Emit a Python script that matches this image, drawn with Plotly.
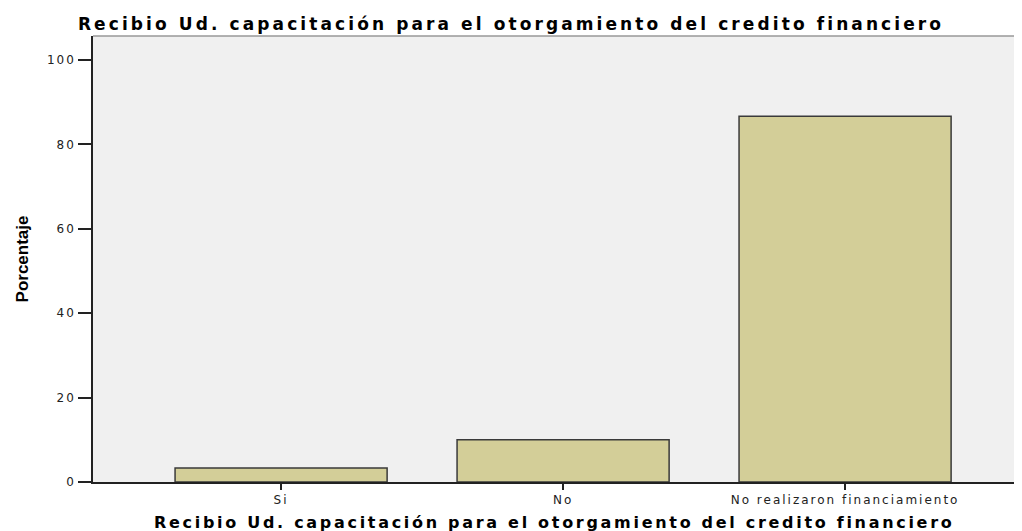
import plotly.graph_objects as go

categories = ["Si", "No", "No realizaron financiamiento"]
porcentaje = [3.33, 10.0, 86.67]
y_ticks = [0, 20, 40, 60, 80, 100]

title_text = "Recibio Ud. capacitación para el otorgamiento del credito financiero"
y_title = "Porcentaje"


def spaced(text, px):
    return f'<span style="letter-spacing:{px}px">{text}</span>'


fig = go.Figure(go.Bar(
    x=categories,
    y=porcentaje,
    marker=dict(color="#d3ce98", line=dict(color="#3a3a3a", width=1.5)),
    hoverinfo="skip",
))

fig.update_layout(
    width=1006, height=523,
    margin=dict(l=85, r=0, t=28, b=49, autoexpand=False),
    paper_bgcolor="white",
    plot_bgcolor="#f0f0f0",
    bargap=0.248,
    showlegend=False,
    title=dict(text=spaced(title_text, 3.1), x=0.5, xref="container", xanchor="center",
               y=1 - 16 / 523, yref="container", yanchor="middle",
               font=dict(family="DejaVu Sans", size=17, color="black", weight="bold")),
    font=dict(family="DejaVu Sans", color="#222222"),
)

fig.update_xaxes(
    type="category",
    range=[-0.667, 2.599],
    tickvals=categories,
    ticktext=[spaced(c, 2) for c in categories],
    showline=True, linecolor="#222222", linewidth=1.5,
    ticks="outside", ticklen=6, tickcolor="#222222", tickwidth=1.5,
    tickfont=dict(size=12, family="DejaVu Sans", color="#222222"),
    showgrid=False, automargin=False,
)

fig.add_annotation(
    text=spaced(title_text, 2.7), xref="paper", yref="paper", x=0.5, y=0,
    xanchor="center", yanchor="middle", yshift=-40, showarrow=False,
    font=dict(family="DejaVu Sans", size=16, color="black", weight="bold"),
)

fig.update_yaxes(
    range=[0, 105.7],
    tickvals=y_ticks,
    ticktext=[spaced(str(v), 2) for v in y_ticks],
    showline=True, linecolor="#222222", linewidth=1.5,
    ticks="outside", ticklen=13, tickcolor="#222222", tickwidth=1.5,
    tickfont=dict(size=12, family="DejaVu Sans", color="#222222"),
    showgrid=False, zeroline=False, automargin=False,
    title=dict(text=y_title, standoff=14,
               font=dict(family="Liberation Sans Narrow, Liberation Sans", size=17, color="black", weight="bold")),
)

fig.add_shape(type="line", xref="paper", yref="paper", x0=0, x1=1, y0=1, y1=1,
              line=dict(color="#999999", width=1.5))

fig.write_html("out.html")
